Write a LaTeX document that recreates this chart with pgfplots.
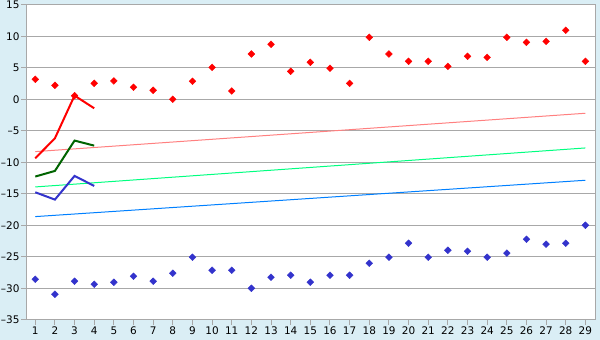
\documentclass[border=0pt]{standalone}
\usepackage{fontspec}
\setmainfont{DejaVu Sans}
\usepackage{pgfplots}
\pgfplotsset{compat=1.18}
\definecolor{bgblue}{RGB}{218,238,245}
\definecolor{gridgray}{RGB}{168,168,168}
\definecolor{trendred}{RGB}{255,128,128}
\definecolor{trendgreen}{RGB}{0,255,128}
\definecolor{trendblue}{RGB}{0,128,255}
\definecolor{dgreen}{RGB}{0,100,0}
\definecolor{pblue}{RGB}{51,51,204}
\begin{document}
\begin{tikzpicture}[x=1bp,y=1bp]
\fill[bgblue] (-26,-20) rectangle (574,320);
\begin{axis}[
  at={(0,0)}, anchor=south west,
  scale only axis, width=569bp, height=315bp,
  xmin=0.54, xmax=29.49, ymin=-35, ymax=15,
  xtick={1,...,29}, ytick={-35,-30,...,15},
  yticklabels={\textendash35,\textendash30,\textendash25,\textendash20,\textendash15,\textendash10,\textendash5,0,5,10,15},
  tick align=outside, tick pos=left,
  major tick length=5bp,
  ymajorgrids, grid style={gridgray, line width=1bp},
  axis line style={gridgray, line width=1bp},
  every tick/.style={gridgray, line width=1bp},
  axis background/.style={fill=white},
  tick label style={font=\fontsize{10.5}{12}\selectfont, text=black},
  xticklabel style={inner sep=1bp, yshift=-1bp},
  yticklabel style={inner sep=1bp, xshift=-0.5bp},
  /pgf/number format/assume math mode=true,
  clip=false,
]
% trend lines
\addplot[trendred, line width=1bp] coordinates {(1,-8.28) (29,-2.19)};
\addplot[trendgreen, line width=1bp] coordinates {(1,-13.89) (29,-7.7)};
\addplot[trendblue, line width=1bp] coordinates {(1,-18.6) (29,-12.83)};
% red points
\addplot[only marks, mark=square*, mark size=2.4bp, red, mark options={fill=red, rotate=45}] coordinates {
(1,3.2) (2,2.25) (3,0.6) (4,2.56) (5,2.94) (6,1.93) (7,1.46) (8,0.03) (9,2.89)
(10,5.1) (11,1.35) (12,7.22) (13,8.76) (14,4.47) (15,5.9) (16,4.95) (17,2.56) (18,9.87) (19,7.22)
(20,6.06) (21,6.06) (22,5.26) (23,6.85) (24,6.69) (25,9.87) (26,9.07) (27,9.23) (28,10.98) (29,6.06)};
% blue points
\addplot[only marks, mark=square*, mark size=2.4bp, pblue, mark options={fill=pblue, rotate=45}] coordinates {
(1,-28.54) (2,-30.93) (3,-28.86) (4,-29.34) (5,-29.02) (6,-28.07) (7,-28.86) (8,-27.59) (9,-25.05)
(10,-27.12) (11,-27.12) (12,-29.98) (13,-28.23) (14,-27.91) (15,-29.02) (16,-27.91) (17,-27.91) (18,-26.0) (19,-25.05)
(20,-22.83) (21,-25.05) (22,-23.94) (23,-24.1) (24,-25.05) (25,-24.4) (26,-22.2) (27,-22.98) (28,-22.83) (29,-19.97)};
% thick lines
\addplot[red, line width=2bp] coordinates {(1,-9.34) (2,-6.16) (3,0.61) (4,-1.4)};
\addplot[dgreen, line width=2bp] coordinates {(1,-12.24) (2,-11.35) (3,-6.53) (4,-7.33)};
\addplot[pblue, line width=2bp] coordinates {(1,-14.74) (2,-15.9) (3,-12.14) (4,-13.73)};
\end{axis}
\end{tikzpicture}
\end{document}
